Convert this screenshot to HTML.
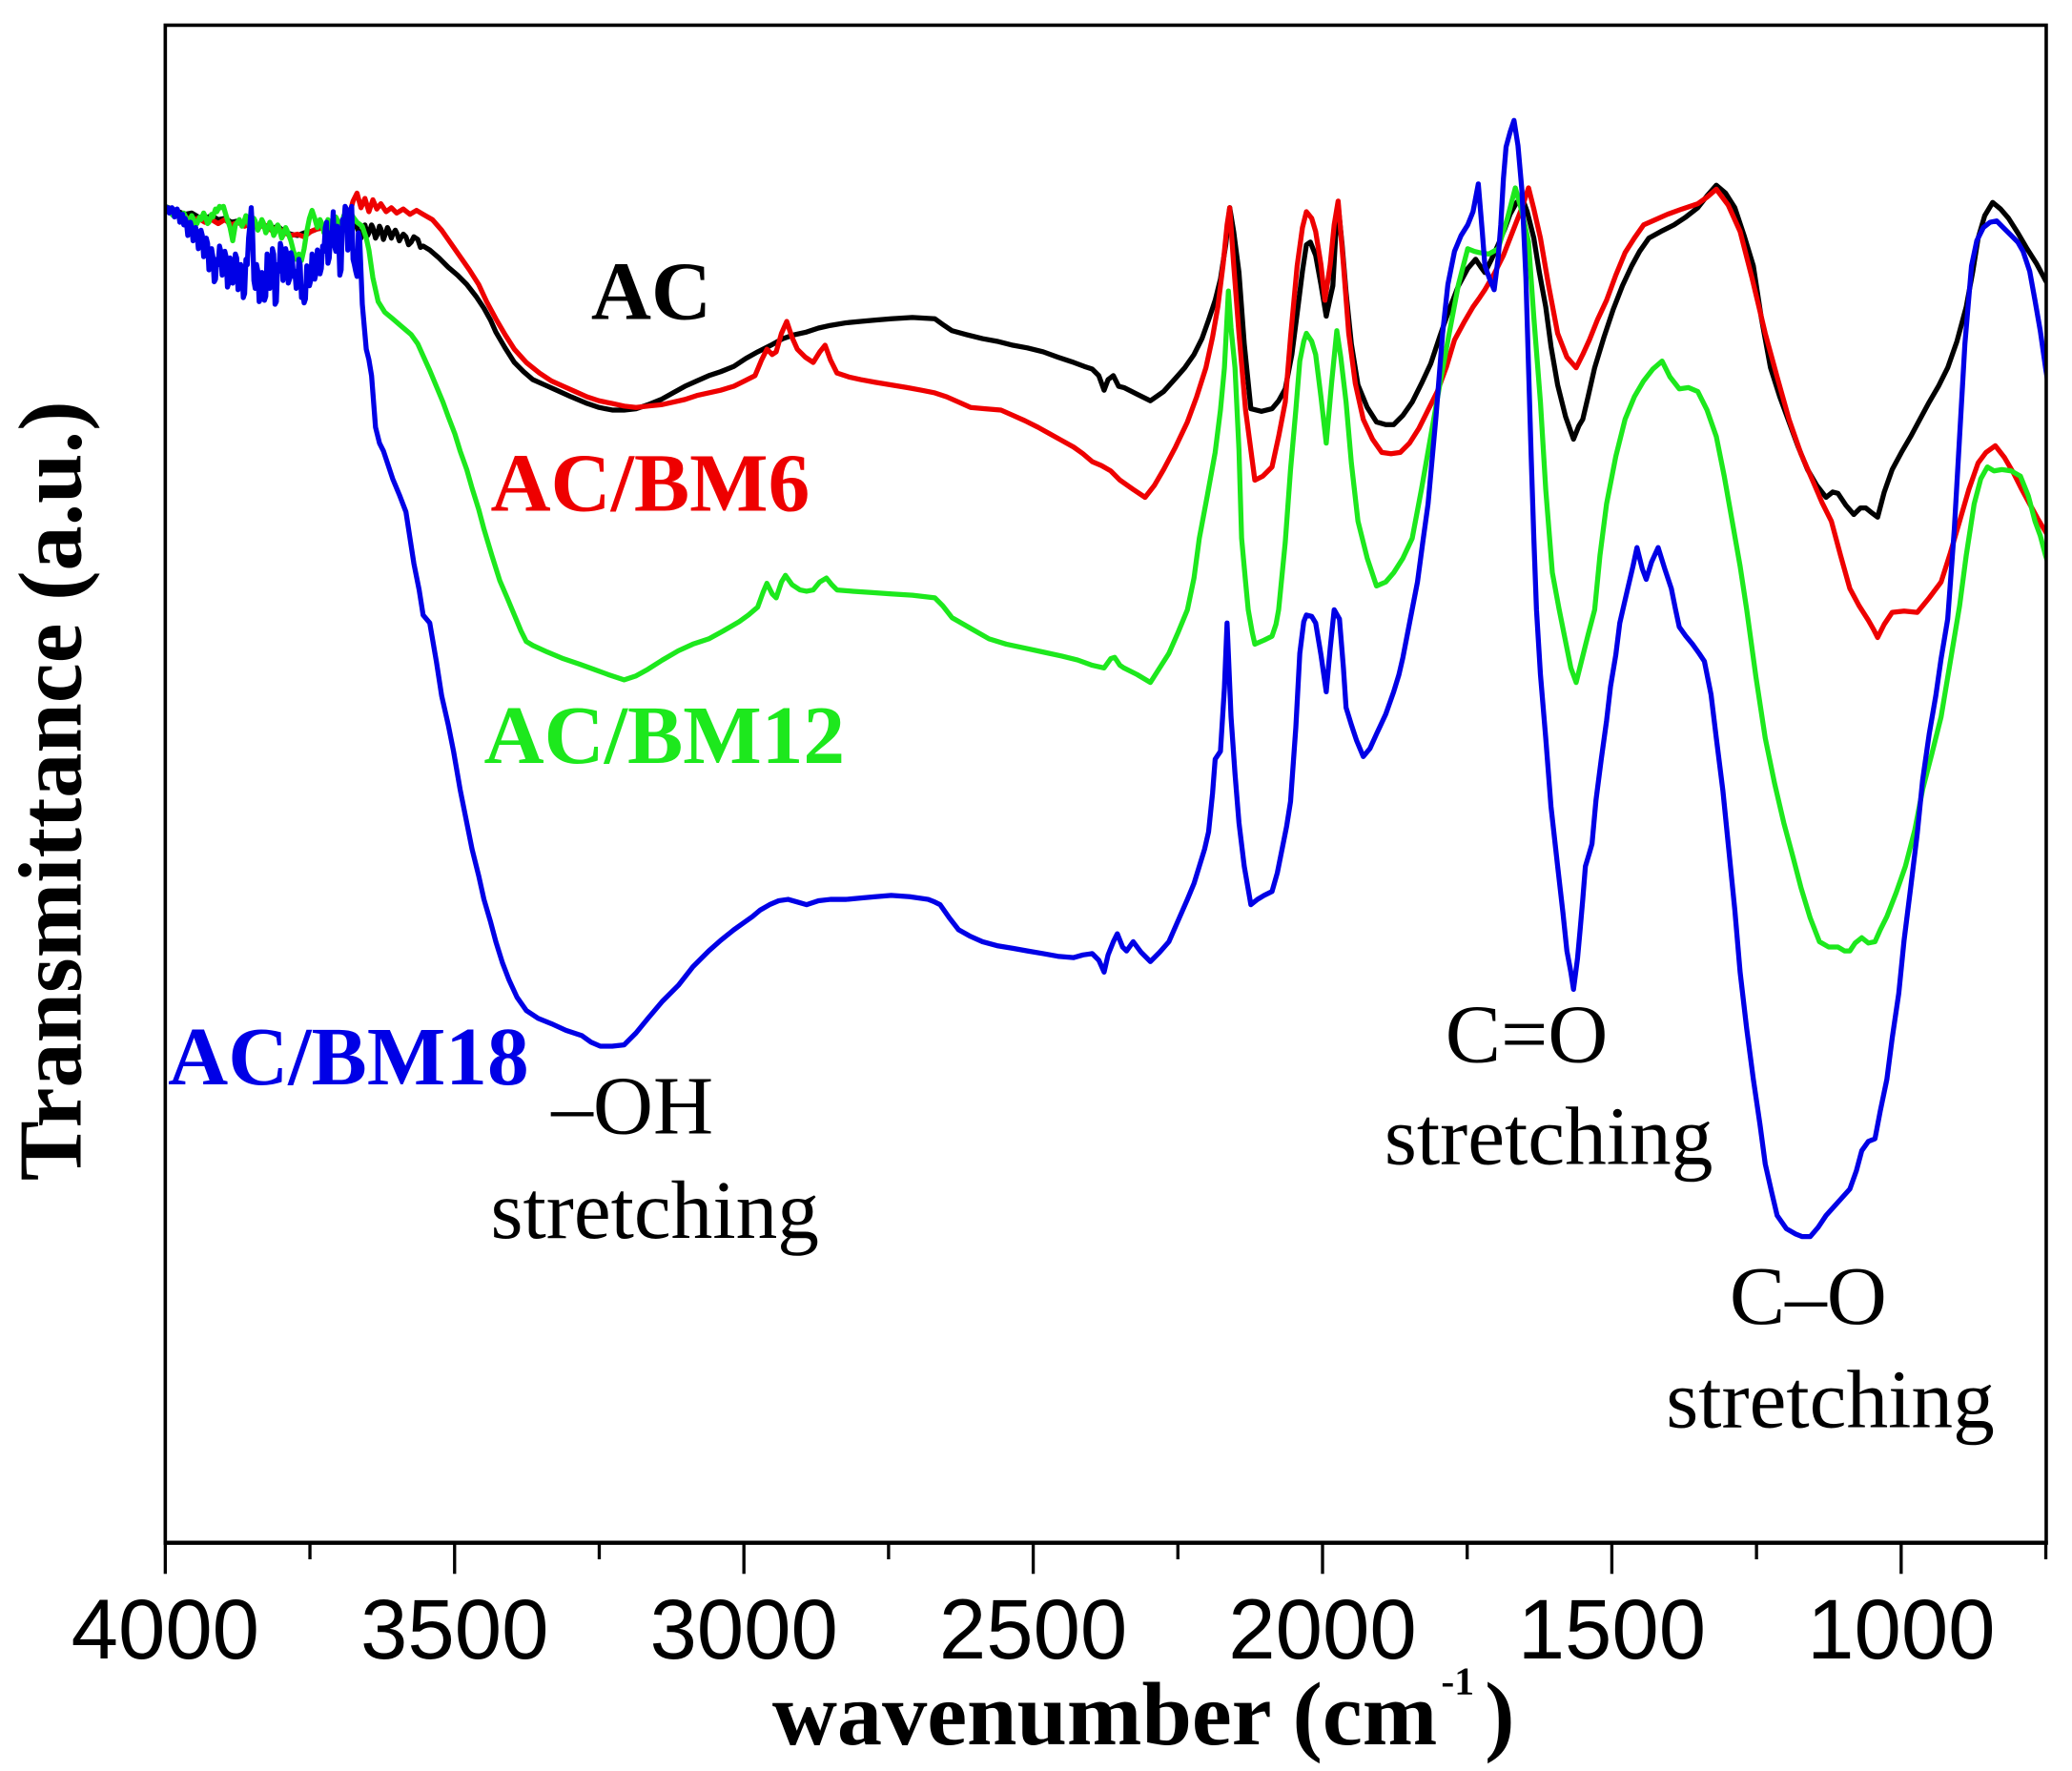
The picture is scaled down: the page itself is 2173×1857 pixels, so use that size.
<!DOCTYPE html>
<html>
<head>
<meta charset="utf-8">
<style>
  html, body { margin: 0; padding: 0; background: #ffffff; }
  svg { display: block; }
  .tick { font-family: "Liberation Sans", Arial, sans-serif; font-size: 64px; fill: #000; }
  .title { font-family: "Liberation Serif", "Times New Roman", serif; font-weight: bold; font-size: 68px; fill: #000; }
  .lab { font-family: "Liberation Serif", "Times New Roman", serif; font-weight: bold; font-size: 63px; }
  .ann { font-family: "Liberation Serif", "Times New Roman", serif; font-size: 63px; fill: #000; }
  .crv { fill: none; stroke-width: 3.8; stroke-linejoin: round; stroke-linecap: round; }
</style>
</head>
<body>
<svg width="2173" height="1857" viewBox="0 0 1567 1339" xmlns="http://www.w3.org/2000/svg">
  <rect x="0" y="0" width="1567" height="1339" fill="#ffffff"/>
  <defs>
    <clipPath id="pc"><rect x="125" y="19" width="1422.5" height="1147.5"/></clipPath>
  </defs>

  <g clip-path="url(#pc)">
    <!-- AC (black) -->
    <polyline class="crv" stroke="#000000" points="125,156 130,158 135,160 140,162 145,161 150,164 155,165 160,163 165,166 170,165 175,168 180,167 185,170 190,168 195,171 200,170 205,173 210,171 215,175 220,177 225,178 230,176 235,175 240,173 245,172 250,171 255,170 260,169 265,168 270,172 273,180 275,172 276,170 278,178 279,176 281,170 282,172 284,180 285,178 287,171 288,173 290,181 291,178 293,172 294,174 296,180 297,177 299,174 300,176 302,182 303,180 305,177 307,179 309,185 311,183 313,179 316,181 318,187 320,186 325,189 332,195 339,202 346,208 353,215 360,224 366,233 371,242 375,251 382,263 389,274 396,281 403,287 412,291 421,295 432,300 444,305 453,308 463,310 472,310 481,309 490,306 500,302 509,297 518,292 527,288 536,284 545,281 555,277 564,271 573,266 583,261 592,256 601,253 610,251 619,248 628,246 640,244 651,243 662,242 674,241 690,240 707,241 714,246 720,250 731,253 743,256 754,258 766,261 777,263 789,266 800,270 812,274 820,277 826,279 831,284 835,295 838,287 842,284 846,292 850,293 860,298 870,303 880,296 889,286 896,278 903,268 909,256 914,242 919,227 923,211 927,185 930,157 933,175 937,206 941,260 946,309 954,311 962,309 967,303 972,294 977,268 981,237 985,205 988,185 991,183 995,193 999,215 1003,239 1006,225 1008,216 1010,180 1012,155 1015,185 1018,221 1022,260 1027,291 1034,308 1041,319 1048,321 1054,321 1061,314 1068,304 1075,290 1082,275 1089,254 1096,234 1103,216 1110,203 1116,196 1120,202 1123,206 1128,196 1133,185 1138,173 1142,162 1147,153 1151,149 1155,160 1160,180 1164,205 1169,232 1173,262 1178,291 1184,315 1190,332 1194,322 1197,317 1201,300 1206,278 1213,255 1220,234 1227,216 1234,201 1240,190 1247,180 1256,175 1266,170 1275,164 1284,157 1291,148 1298,140 1305,146 1312,157 1319,178 1326,201 1332,240 1339,278 1346,300 1353,319 1360,338 1367,355 1374,367 1381,376 1386,372 1390,373 1396,382 1402,389 1407,384 1411,384 1416,388 1420,391 1425,372 1431,355 1438,342 1445,330 1452,317 1459,304 1466,292 1473,278 1480,258 1487,232 1492,205 1496,180 1501,163 1507,153 1513,158 1519,165 1526,176 1533,188 1540,199 1547,212 1552,220"/>

    <!-- AC/BM6 (red) -->
    <polyline class="crv" stroke="#ee0000" points="125,156 130,159 135,162 140,164 145,166 150,165 155,168 160,166 165,169 170,166 175,170 180,168 185,171 190,169 195,172 200,170 205,174 210,172 215,176 220,178 225,177 230,179 235,175 240,173 245,172 250,170 255,168 260,172 264,163 267,152 270,146 273,157 276,150 279,160 282,151 285,158 288,154 292,160 296,157 300,161 305,158 310,162 315,159 320,162 327,166 334,174 341,184 348,194 355,204 362,215 368,228 375,241 382,253 389,264 398,274 408,282 417,288 426,292 435,296 444,300 453,303 463,305 472,307 481,308 490,307 500,306 509,304 518,302 527,299 536,297 545,295 555,292 563,288 571,284 576,272 580,264 584,268 587,266 591,252 595,243 599,255 603,264 609,270 615,274 620,266 624,261 628,272 633,282 642,285 651,287 662,289 674,291 686,293 697,295 707,297 716,300 725,304 734,308 745,309 757,310 766,314 775,318 785,323 794,328 803,333 812,338 819,343 826,349 833,352 840,356 847,363 857,370 866,376 873,367 880,355 889,338 898,319 905,300 912,278 917,255 921,232 925,200 928,170 930,157 933,200 937,252 942,310 949,363 955,360 962,353 967,330 972,304 976,255 981,201 985,172 988,160 992,165 995,175 999,200 1002,227 1006,200 1009,170 1012,152 1016,200 1020,252 1025,290 1031,317 1038,332 1045,342 1052,343 1059,342 1066,335 1073,324 1080,310 1087,296 1094,277 1100,257 1107,244 1114,232 1119,225 1123,219 1130,207 1137,193 1144,175 1151,157 1156,142 1160,158 1165,180 1171,215 1178,252 1185,270 1192,278 1197,268 1202,257 1208,242 1215,227 1222,208 1229,191 1236,180 1243,170 1252,166 1261,162 1272,158 1284,154 1291,149 1298,143 1307,155 1316,175 1325,210 1335,252 1344,285 1353,317 1362,343 1372,366 1378,380 1385,394 1392,420 1399,445 1406,458 1413,469 1417,476 1420,482 1425,472 1431,463 1440,462 1450,463 1459,452 1468,440 1475,418 1482,394 1489,370 1496,350 1502,342 1509,337 1516,346 1523,358 1529,370 1535,381 1541,392 1547,402 1552,410"/>

    <!-- AC/BM12 (green) -->
    <polyline class="crv" stroke="#1de81d" points="125,156 127,157 128,158 130,162 131,163 133,159 134,161 136,166 137,165 139,161 140,163 142,168 143,167 145,163 146,165 148,170 149,169 151,164 152,166 154,161 155,163 157,169 158,168 160,162 161,164 163,158 164,160 166,156 167,157 169,156 171,163 174,172 176,182 178,170 181,166 183,171 184,169 186,163 187,165 189,172 190,170 192,165 193,167 195,174 196,172 198,166 199,168 201,176 202,174 204,168 205,170 207,178 208,176 210,170 211,172 213,180 214,178 216,172 217,174 220,182 222,190 224,196 226,192 228,197 230,188 232,175 234,165 236,159 238,165 240,172 242,166 243,168 245,176 246,174 248,166 249,168 251,175 252,173 254,164 255,166 257,173 258,171 260,163 261,165 263,172 264,170 266,162 267,164 270,168 274,171 277,180 279,189 282,210 286,228 291,236 297,241 304,247 311,253 316,260 320,269 325,280 330,292 335,304 339,315 344,328 348,341 353,355 357,369 362,385 366,400 372,420 378,439 384,453 389,465 394,477 398,485 403,488 414,493 426,498 438,502 449,506 460,510 472,514 481,511 490,506 501,499 513,492 524,487 536,483 547,477 559,470 566,465 573,459 577,448 580,441 584,449 587,452 591,440 594,435 599,442 605,446 610,447 615,446 620,440 625,437 629,442 633,446 645,447 660,448 674,449 690,450 707,452 713,458 720,467 734,475 748,483 761,487 775,490 789,493 803,496 815,499 826,503 835,505 840,498 843,497 847,503 850,505 860,510 870,516 877,505 884,494 891,478 898,461 903,437 907,407 913,375 919,342 923,310 926,278 928,240 929,220 931,248 934,278 937,340 939,407 942,440 944,461 947,478 949,487 956,484 962,481 965,472 967,461 972,410 976,355 980,310 983,273 986,258 988,252 992,258 995,268 999,300 1003,335 1007,290 1011,250 1014,270 1018,304 1022,350 1027,394 1034,422 1041,443 1048,440 1054,433 1061,422 1068,407 1075,370 1082,330 1089,290 1096,252 1103,215 1110,188 1115,190 1119,191 1126,192 1133,188 1140,165 1146,142 1151,160 1156,183 1160,240 1165,304 1169,370 1174,433 1179,460 1183,480 1188,505 1192,516 1196,500 1201,480 1206,461 1210,420 1215,381 1222,345 1229,317 1236,300 1243,288 1250,279 1257,273 1263,285 1270,294 1277,293 1284,296 1291,310 1298,330 1304,360 1310,394 1316,428 1321,461 1328,512 1335,558 1342,592 1349,622 1356,648 1362,671 1369,694 1376,712 1383,716 1390,716 1395,719 1399,719 1403,713 1408,709 1413,713 1418,712 1422,703 1427,693 1434,675 1441,655 1448,628 1454,597 1461,570 1468,542 1475,500 1482,458 1487,420 1493,381 1498,362 1503,353 1508,356 1514,355 1521,356 1528,360 1534,375 1539,394 1543,405 1547,420 1552,435"/>

    <!-- AC/BM18 (blue) -->
    <polyline class="crv" stroke="#0000e6" points="125,156 126,158 127,157 128,161 129,160 130,157 131,158 132,164 133,162 134,158 135,161 136,168 137,166 138,162 139,170 140,165 141,168 142,178 143,176 144,168 145,172 146,182 147,180 148,172 149,177 150,188 151,184 152,174 153,178 154,194 155,190 156,180 157,184 158,204 159,200 160,188 161,194 162,213 163,211 164,196 165,200 166,186 167,190 168,208 169,205 170,190 171,194 172,217 173,214 174,195 175,198 176,214 177,210 178,192 179,195 180,219 181,216 182,200 183,204 184,225 185,222 186,196 187,200 188,180 189,170 190,157 191,175 192,212 193,218 194,200 195,205 196,228 197,226 198,206 199,210 200,227 201,224 202,192 203,196 204,218 205,215 206,188 207,192 208,230 209,228 210,200 211,205 212,184 213,188 214,212 215,208 216,188 217,192 218,214 219,211 220,191 221,195 222,209 223,205 224,218 225,215 226,196 227,200 228,225 229,222 230,229 231,226 232,201 233,205 234,216 235,212 236,192 237,196 238,211 239,207 240,189 241,193 242,207 243,203 244,186 245,190 246,172 247,168 248,199 249,195 250,176 251,180 252,160 253,186 254,190 255,171 256,175 257,208 258,204 259,166 260,170 261,156 262,158 263,189 264,185 265,160 266,156 267,196 268,200 269,205 270,209 271,176 272,180 274,230 277,264 279,272 281,284 284,323 287,335 290,341 297,362 302,374 307,387 313,426 317,446 320,465 325,471 330,500 334,526 339,548 343,568 348,597 353,622 357,642 362,662 366,680 371,697 375,712 380,728 385,741 391,754 398,764 407,770 417,774 428,779 440,783 447,788 454,791 463,791 472,790 481,781 490,770 501,757 513,745 524,731 536,719 545,711 555,703 562,698 569,693 575,688 582,684 589,681 596,680 603,682 610,684 619,681 628,680 640,680 651,679 662,678 674,677 688,678 702,680 707,682 711,684 718,694 725,703 734,708 743,712 754,715 766,717 777,719 789,721 800,723 812,724 819,722 826,721 831,726 835,735 838,722 842,712 845,706 849,716 852,719 857,712 863,720 870,727 877,720 884,712 891,696 898,680 903,668 907,655 911,642 914,629 917,600 919,574 923,568 926,520 928,471 931,542 934,585 937,622 941,655 946,684 951,680 956,677 962,674 966,660 969,645 973,625 976,606 980,550 983,494 986,470 988,465 992,466 995,471 999,495 1003,523 1006,490 1009,461 1013,468 1016,505 1018,535 1022,548 1026,560 1031,572 1036,566 1041,555 1048,540 1054,523 1058,510 1061,497 1066,471 1072,440 1076,410 1080,381 1086,315 1091,252 1095,215 1100,190 1105,178 1110,170 1114,160 1118,139 1121,175 1123,201 1127,212 1130,219 1133,195 1135,170 1137,135 1139,111 1142,100 1145,91 1148,110 1151,144 1154,210 1156,278 1158,345 1160,407 1162,461 1165,510 1169,558 1173,610 1178,655 1182,690 1185,719 1188,735 1190,748 1193,725 1195,703 1197,680 1199,655 1202,645 1204,638 1207,605 1211,574 1215,545 1218,519 1222,495 1225,471 1228,458 1231,445 1235,428 1238,414 1242,430 1245,438 1249,425 1254,414 1259,430 1264,445 1267,460 1270,474 1275,481 1280,487 1285,494 1289,500 1294,525 1298,558 1303,598 1307,638 1312,688 1316,735 1321,778 1326,816 1331,850 1335,880 1340,902 1344,919 1351,929 1358,933 1363,935 1369,935 1375,928 1381,919 1390,909 1399,899 1404,885 1408,870 1413,863 1418,861 1422,840 1427,816 1431,785 1436,751 1440,711 1445,671 1450,630 1454,590 1459,555 1464,526 1468,498 1473,468 1478,400 1482,330 1486,260 1491,201 1495,182 1500,172 1505,168 1510,167 1515,172 1521,178 1526,183 1530,190 1535,205 1539,227 1543,250 1547,278 1552,310"/>
  </g>

  <!-- frame -->
  <rect x="125" y="19" width="1422.5" height="1147.5" fill="none" stroke="#000" stroke-width="2.6"/>
  <line x1="123.7" y1="1166.5" x2="1548.8" y2="1166.5" stroke="#000" stroke-width="3.2"/>

  <!-- x ticks: major every 500, minor every 250 -->
  <g stroke="#000" stroke-width="2.4">
    <line x1="125" y1="1166" x2="125" y2="1190"/>
    <line x1="234.4" y1="1166" x2="234.4" y2="1179"/>
    <line x1="343.8" y1="1166" x2="343.8" y2="1190"/>
    <line x1="453.2" y1="1166" x2="453.2" y2="1179"/>
    <line x1="562.6" y1="1166" x2="562.6" y2="1190"/>
    <line x1="672" y1="1166" x2="672" y2="1179"/>
    <line x1="781.4" y1="1166" x2="781.4" y2="1190"/>
    <line x1="890.8" y1="1166" x2="890.8" y2="1179"/>
    <line x1="1000.2" y1="1166" x2="1000.2" y2="1190"/>
    <line x1="1109.6" y1="1166" x2="1109.6" y2="1179"/>
    <line x1="1219" y1="1166" x2="1219" y2="1190"/>
    <line x1="1328.4" y1="1166" x2="1328.4" y2="1179"/>
    <line x1="1437.8" y1="1166" x2="1437.8" y2="1190"/>
    <line x1="1547.2" y1="1166" x2="1547.2" y2="1179"/>
  </g>

  <!-- tick labels -->
  <g class="tick" text-anchor="middle">
    <text x="125" y="1254">4000</text>
    <text x="343.8" y="1254">3500</text>
    <text x="562.6" y="1254">3000</text>
    <text x="781.4" y="1254">2500</text>
    <text x="1000.2" y="1254">2000</text>
    <text x="1219" y="1254">1500</text>
    <text x="1437.8" y="1254">1000</text>
  </g>

  <!-- axis titles -->
  <text class="title" x="584" y="1319">wavenumber (cm<tspan font-size="30" dy="-38" dx="3">-1</tspan><tspan dy="38" dx="8">)</tspan></text>
  <text class="title" text-anchor="middle" transform="translate(61,598) rotate(-90)">Transmittance (a.u.)</text>

  <!-- series labels -->
  <text class="lab" x="447" y="241" fill="#000000">AC</text>
  <text class="lab" x="371" y="386" fill="#ee0000">AC/BM6</text>
  <text class="lab" x="366" y="577" fill="#1de81d">AC/BM12</text>
  <text class="lab" x="127" y="820" fill="#0000e6">AC/BM18</text>

  <!-- band annotations -->
  <text class="ann" x="417" y="857">–OH</text>
  <text class="ann" x="371" y="936">stretching</text>
  <text class="ann" x="1093" y="803">C=O</text>
  <text class="ann" x="1047" y="880">stretching</text>
  <text class="ann" x="1308" y="1001">C–O</text>
  <text class="ann" x="1260" y="1079">stretching</text>
</svg>
</body>
</html>
